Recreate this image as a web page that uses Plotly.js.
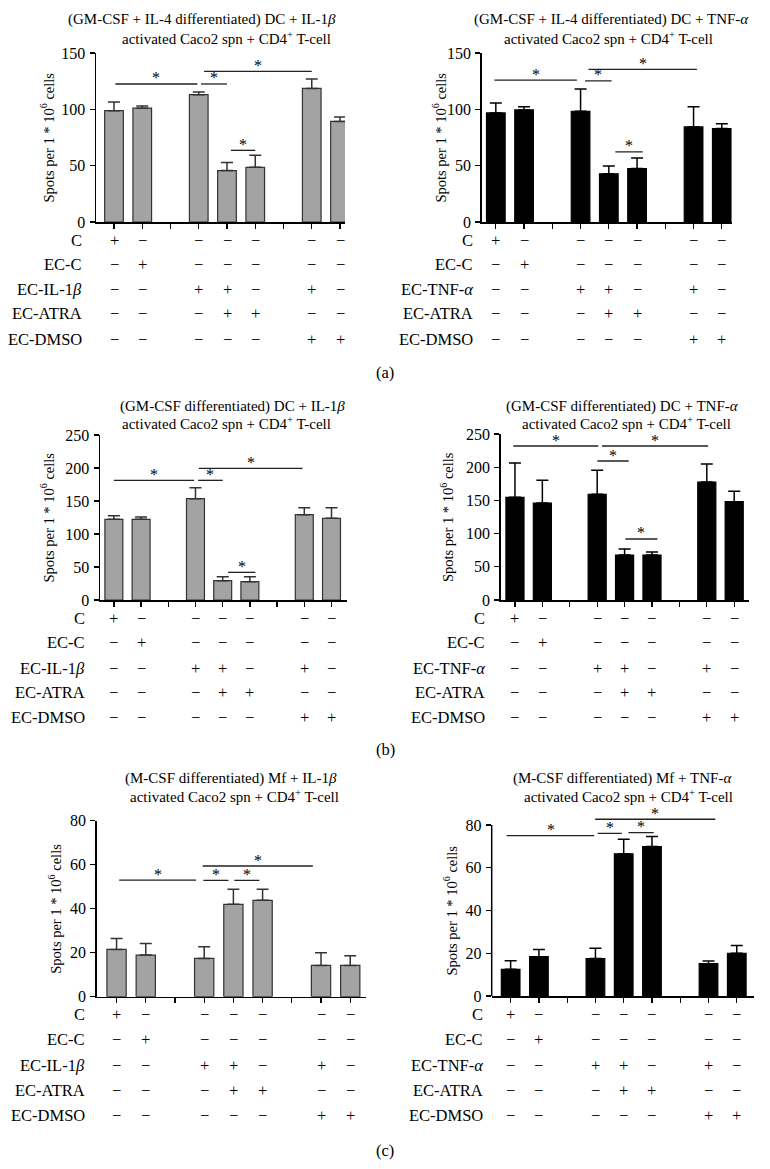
<!DOCTYPE html>
<html>
<head>
<meta charset="utf-8">
<script src="https://cdn.plot.ly/plotly-3.0.1.min.js"></script>
<style>html,body{margin:0;padding:0;background:#fff;}#chart{width:770px;height:1169px;}</style>
</head>
<body>
<div id="chart"></div>
<script>
// ---------- DATA ----------
const categories = ['C', 'EC-C', 'gap1', 'Stim', 'Stim+ATRA', 'ATRA', 'gap2', 'Stim+DMSO', 'DMSO'];
const barCats = ['C', 'EC-C', 'Stim', 'Stim+ATRA', 'ATRA', 'Stim+DMSO', 'DMSO'];

const rowLabelsIL = ['C', 'EC-C', 'EC-IL-1<i>β</i>', 'EC-ATRA', 'EC-DMSO'];
const rowLabelsTNF = ['C', 'EC-C', 'EC-TNF-<i>α</i>', 'EC-ATRA', 'EC-DMSO'];
const signC    = ['+', '−', '−', '−', '−', '−', '−'];
const signECC  = ['−', '+', '−', '−', '−', '−', '−'];
const signStim = ['−', '−', '+', '+', '−', '+', '−'];
const signATRA = ['−', '−', '−', '+', '+', '−', '−'];
const signDMSO = ['−', '−', '−', '−', '−', '+', '+'];
const noMinus = [0, 0, 0, 0, 0, 0, 0];

// (a) GM-CSF + IL-4 DC
const meanA1 = [98.8, 101, 113, 45.6, 48.5, 118.6, 89.3];
const errA1  = [7.7, 2, 2.4, 7.1, 10.7, 8.3, 3.9];
const meanA2 = [96.8, 99.5, 98.3, 42.8, 47.5, 84.4, 83];
const errA2  = [8.9, 2.9, 19.8, 6.8, 9.2, 18, 4.1];
// (b) GM-CSF DC
const meanB1 = [122.2, 122.2, 153.5, 29.3, 27.8, 129.3, 123.7];
const errB1  = [5.6, 3.6, 16.7, 6.1, 7.6, 10.6, 16.2];
const meanB2 = [154.6, 146.1, 159.1, 67.8, 67.8, 177.7, 148.1];
const errB2  = [51.7, 34.1, 36.2, 9, 4.5, 27.1, 15.6];
// (c) M-CSF Mf
const meanC1 = [21.5, 18.9, 17.4, 42, 43.8, 14.2, 14.2];
const errC1  = [5, 5.3, 5.3, 6.8, 5, 5.8, 4.4];
const meanC2 = [12.5, 18.4, 17.5, 66.5, 69.9, 15.1, 20];
const errC2  = [4, 3.4, 4.8, 6.8, 4.7, 1.3, 3.6];

// significance brackets: [from index, to index, level]
const sigA1 = [[0.05, 2.95, 122.5], [3.08, 4.0, 122.5], [3.19, 7.0, 133.7], [4.14, 5.0, 63.6]];
const sigA2 = [[-0.05, 2.87, 126], [3.16, 4.1, 125.2], [3.28, 7.12, 135.5], [4.23, 5.2, 62.3]];
const sigB1 = [[0, 2.95, 181.3], [3.1, 4.0, 181.3], [3.12, 6.94, 199.5], [4.2, 5.2, 41.9]];
const sigB2 = [[-0.06, 3.04, 231.9], [3.01, 4.15, 209.3], [3.18, 7.05, 231.9], [4.03, 5.2, 91.9]];
const sigC1 = [[0.09, 2.72, 53], [2.97, 3.83, 52.9], [4.03, 4.89, 52.9], [2.95, 6.72, 59.4]];
const sigC2 = [[-0.14, 2.96, 75], [3.08, 3.93, 76.1], [4.17, 5.06, 76.4], [2.99, 7.24, 82.7]];

const titlesA1 = ['(GM-CSF + IL-4 differentiated) DC + IL-1<i>β</i>', 'activated Caco2 spn + CD4<sup>+</sup> T-cell'];
const titlesA2 = ['(GM-CSF + IL-4 differentiated) DC + TNF-<i>α</i>', 'activated Caco2 spn + CD4<sup>+</sup> T-cell'];
const titlesB1 = ['(GM-CSF differentiated) DC + IL-1<i>β</i>', 'activated Caco2 spn + CD4<sup>+</sup> T-cell'];
const titlesB2 = ['(GM-CSF differentiated) DC + TNF-<i>α</i>', 'activated Caco2 spn + CD4<sup>+</sup> T-cell'];
const titlesC1 = ['(M-CSF differentiated) Mf + IL-1<i>β</i>', 'activated Caco2 spn + CD4<sup>+</sup> T-cell'];
const titlesC2 = ['(M-CSF differentiated) Mf + TNF-<i>α</i>', 'activated Caco2 spn + CD4<sup>+</sup> T-cell'];
const yTitle = 'Spots per 1 * 10<sup>6</sup> cells';
const panelLetters = ['(a)', '(b)', '(c)'];

// ---------- LAYOUT GEOMETRY (pixels) ----------
const W = 770, H = 1169;
const GRAY = '#a3a3a3', BLACK = '#000000';
const FONT = 'Liberation Serif, Times New Roman, serif';
const TXT = {family: FONT, size: 15, color: '#000'};
const TAB = {family: FONT, size: 16.5, color: '#000'};
const TICK = {family: FONT, size: 16, color: '#000'};

const panels = [
  {mean: meanA1, err: errA1, sig: sigA1, titles: titlesA1, rows: rowLabelsIL, fill: GRAY, edge: '#333',
   x0: 96, x1: 345, range: [-0.637, 8.177], y0: 222, axTop: 150, ppu: (222 - 53) / 150, rTop: 150, dtick: 50,
   tX: [202, 226], tY: [20, 38], ytX: 48, rowY: [241, 265, 290, 314, 339], labX: 84},
  {mean: meanA2, err: errA2, sig: sigA2, titles: titlesA2, rows: rowLabelsTNF, fill: BLACK, edge: '#000',
   x0: 481.7, x1: 731.7, range: [-0.5, 8.35], y0: 222, axTop: 150, ppu: (222 - 53) / 150, rTop: 150, dtick: 50,
   tX: [611, 608], tY: [20, 38], ytX: 440, rowY: [241, 265, 290, 314, 339], labX: 475},
  {mean: meanB1, err: errB1, sig: sigB1, titles: titlesB1, rows: rowLabelsIL, fill: GRAY, edge: '#333',
   x0: 100, x1: 347, range: [-0.51, 8.57], y0: 600, axTop: 250, ppu: (600 - 435) / 250, rTop: 250, dtick: 50,
   tX: [232, 226], tY: [406, 423], ytX: 47, rowY: [618, 642, 668, 692, 717], labX: 87},
  {mean: meanB2, err: errB2, sig: sigB2, titles: titlesB2, rows: rowLabelsTNF, fill: BLACK, edge: '#000',
   x0: 500.7, x1: 749, range: [-0.52, 8.54], y0: 600, axTop: 250, ppu: (600 - 434) / 250, rTop: 250, dtick: 50,
   tX: [622, 626], tY: [406, 423], ytX: 447, rowY: [618, 642, 668, 692, 717], labX: 487},
  {mean: meanC1, err: errC1, sig: sigC1, titles: titlesC1, rows: rowLabelsIL, fill: GRAY, edge: '#333',
   x0: 96.7, x1: 366, range: [-0.68, 8.54], y0: 996.7, axTop: 80, ppu: (996.7 - 820.7) / 80, rTop: 80, dtick: 20,
   tX: [231, 234], tY: [778, 796], ytX: 55, rowY: [1014, 1039, 1065, 1090, 1115], labX: 87},
  {mean: meanC2, err: errC2, sig: sigC2, titles: titlesC2, rows: rowLabelsTNF, fill: BLACK, edge: '#000',
   x0: 491.7, x1: 754.3, range: [-0.67, 8.62], y0: 996, axTop: 80, ppu: (996 - 825) / 80, rTop: 86, dtick: 20,
   tX: [622, 628], tY: [778, 796], ytX: 450, rowY: [1014, 1039, 1065, 1090, 1115], labX: 485}
];
const signRows = [signC, signECC, signStim, signATRA, signDMSO];
const letterY = [372, 749, 1150];

const px = v => v / W;
const py = v => 1 - v / H;

const data = [];
const layout = {
  width: W, height: H,
  margin: {l: 0, r: 0, t: 0, b: 0},
  paper_bgcolor: '#fff', plot_bgcolor: 'rgba(0,0,0,0)',
  showlegend: false,
  font: {family: FONT, size: 15, color: '#000'},
  bargap: 0.34,
  annotations: [],
  shapes: []
};

panels.forEach((p, i) => {
  const n = i + 1;
  const xid = 'x' + (n === 1 ? '' : n), yid = 'y' + (n === 1 ? '' : n);
  const xkey = 'xaxis' + (n === 1 ? '' : n), ykey = 'yaxis' + (n === 1 ? '' : n);
  const yTopPx = p.y0 - p.rTop * p.ppu;
  const axTopPx = p.y0 - p.axTop * p.ppu;
  const clipLine = p.rTop !== p.axTop;

  data.push({
    type: 'bar', x: barCats, y: p.mean, xaxis: xid, yaxis: yid,
    marker: {color: p.fill, line: {color: p.edge, width: 1.2}},
    error_y: {type: 'data', symmetric: false, array: p.err, arrayminus: noMinus,
              color: p.edge === '#000' ? '#000' : '#333', thickness: 1.5, width: 6},
    hoverinfo: 'y'
  });

  layout[xkey] = {
    domain: [px(p.x0), px(p.x1)], anchor: yid, type: 'category',
    categoryorder: 'array', categoryarray: categories, range: p.range,
    showline: true, linecolor: '#000', linewidth: 1.5, ticks: 'outside', ticklen: 5,
    tickwidth: 1.3, tickcolor: '#000', showticklabels: false, showgrid: false, zeroline: false
  };
  layout[ykey] = {
    domain: [py(p.y0), py(yTopPx)], anchor: xid, range: [0, p.rTop],
    tick0: 0, dtick: p.dtick, showline: !clipLine, linecolor: '#000', linewidth: 1.5,
    ticks: 'outside', ticklen: 5, tickwidth: 1.3, tickcolor: '#000', ticklabelstandoff: 1,
    tickfont: TICK, showgrid: false, zeroline: false
  };
  if (clipLine) {
    layout.shapes.push({type: 'line', xref: 'paper', yref: yid, x0: px(p.x0), x1: px(p.x0), y0: 0, y1: p.axTop,
      line: {color: '#000', width: 1.5}});
  }

  // title lines
  p.titles.forEach((t, k) => {
    layout.annotations.push({text: t, xref: 'paper', yref: 'paper', x: px(p.tX[k]), y: py(p.tY[k]),
      xanchor: 'center', yanchor: 'middle', showarrow: false, font: TXT});
  });
  // y-axis title
  layout.annotations.push({text: yTitle, textangle: -90, xref: 'paper', yref: 'paper',
    x: px(p.ytX), y: py((p.y0 + axTopPx) / 2), xanchor: 'center', yanchor: 'middle', showarrow: false,
    font: {family: FONT, size: 14.5, color: '#000'}});

  // significance brackets
  p.sig.forEach(s => {
    layout.shapes.push({type: 'line', xref: xid, yref: yid, x0: s[0], x1: s[1], y0: s[2], y1: s[2],
      line: {color: '#222', width: 1.3}});
    layout.annotations.push({text: '*', xref: xid, yref: yid, x: (s[0] + s[1]) / 2, y: s[2],
      xanchor: 'center', yanchor: 'middle', yshift: 6, showarrow: false,
      font: {family: FONT, size: 16, color: '#000'}});
  });

  // treatment table
  p.rows.forEach((lab, r) => {
    layout.annotations.push({text: lab, xref: 'paper', yref: 'paper', x: px(p.labX), y: py(p.rowY[r]),
      xanchor: 'right', yanchor: 'middle', showarrow: false, font: TAB});
    signRows[r].forEach((s, c) => {
      layout.annotations.push({text: s, xref: xid, yref: 'paper', x: barCats[c], y: py(p.rowY[r]),
        xanchor: 'center', yanchor: 'middle', showarrow: false, font: TAB});
    });
  });
});

panelLetters.forEach((t, i) => {
  layout.annotations.push({text: t, xref: 'paper', yref: 'paper', x: px(385), y: py(letterY[i]),
    xanchor: 'center', yanchor: 'middle', showarrow: false, font: TAB});
});

Plotly.newPlot('chart', data, layout, {staticPlot: true, displayModeBar: false});
</script>
</body>
</html>
